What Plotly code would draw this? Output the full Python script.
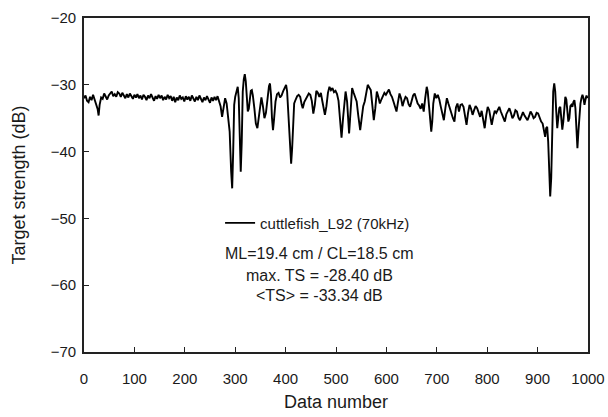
import plotly.graph_objects as go

data_number = [0,3,6,9,12,15,18,21,24,27,29,31,34,37,40,43,46,49,52,55,58,61,64,67,70,73,76,79,82,85,88,91,94,97,100,103,106,109,112,115,118,121,124,127,130,133,136,139,142,145,148,151,154,157,160,163,166,169,172,175,178,181,184,187,190,193,196,199,202,205,208,211,214,217,220,223,226,229,232,235,238,241,244,247,250,253,256,259,262,265,268,271,274,277,280,283,286,289,292,294,296,298,300,303,305,307,309,311,313,315,317,319,321,323,325,327,329,331,333,335,338,341,344,347,350,352,355,358,361,364,367,369,371,373,375,377,380,383,386,389,392,395,398,401,403,405,407,409,411,413,415,417,420,423,426,429,432,434,437,440,443,446,449,452,455,458,461,464,467,470,473,476,478,481,484,487,490,493,496,499,502,505,508,511,514,517,519,522,524,526,528,530,532,535,538,541,544,546,548,551,554,557,560,563,566,569,572,575,578,581,584,587,590,593,596,599,602,605,608,611,614,617,620,623,626,629,632,635,638,641,644,647,650,653,656,659,662,665,668,671,674,677,680,682,684,686,689,691,693,696,699,702,705,708,711,714,717,720,723,726,729,732,735,738,741,744,747,750,753,756,759,762,765,768,771,774,777,780,783,786,789,792,795,798,801,804,807,809,812,815,818,821,824,827,830,833,835,838,841,844,847,850,853,856,859,862,865,868,871,874,877,880,883,886,889,892,895,898,901,904,907,910,913,915,917,919,921,923,925,927,929,931,933,935,937,939,941,943,945,947,949,951,953,955,957,959,961,963,965,967,969,971,973,975,977,979,981,983,985,987,989,991,993,995,997,999]

target_strength = [-32.0,-31.6,-32.4,-32.6,-31.8,-32.3,-31.5,-32.2,-32.9,-33.6,-34.6,-33.0,-31.9,-32.1,-31.3,-31.9,-32.2,-31.6,-31.2,-31.0,-31.7,-31.4,-31.8,-31.1,-31.3,-31.8,-31.2,-31.6,-32.0,-31.4,-31.9,-31.3,-31.7,-32.1,-31.5,-31.9,-31.4,-32.0,-31.6,-32.2,-31.5,-31.8,-32.3,-31.6,-32.0,-31.4,-31.9,-32.4,-31.7,-32.1,-31.5,-32.0,-31.6,-32.3,-31.8,-32.2,-31.5,-32.0,-31.7,-32.4,-31.8,-32.6,-31.9,-32.3,-31.6,-32.1,-31.9,-32.5,-31.7,-32.2,-31.8,-32.4,-31.6,-32.0,-32.5,-31.8,-32.3,-31.6,-32.1,-32.6,-31.9,-32.3,-31.7,-32.2,-32.7,-31.9,-32.4,-31.8,-32.3,-31.7,-32.5,-33.2,-34.8,-33.0,-32.0,-32.8,-34.5,-37.0,-43.0,-45.5,-40.0,-33.0,-31.8,-30.8,-30.3,-32.0,-38.0,-43.0,-38.5,-31.0,-29.2,-28.4,-29.5,-32.0,-34.0,-33.6,-31.5,-30.9,-30.8,-31.6,-33.5,-35.8,-36.5,-34.6,-32.3,-31.9,-33.2,-35.0,-34.2,-32.0,-30.2,-29.8,-31.5,-35.0,-36.8,-35.2,-32.5,-31.4,-31.2,-31.9,-31.6,-31.0,-30.4,-30.0,-31.0,-34.0,-38.0,-41.0,-41.8,-39.5,-35.5,-32.8,-32.2,-31.7,-31.5,-31.8,-33.0,-33.5,-32.6,-32.2,-31.6,-31.3,-31.5,-32.4,-34.3,-33.0,-30.9,-31.2,-31.8,-31.2,-32.5,-34.0,-34.5,-33.2,-31.2,-30.3,-30.8,-30.5,-31.1,-30.9,-31.4,-32.4,-35.5,-37.9,-35.0,-31.8,-31.0,-32.5,-35.5,-37.3,-35.0,-31.5,-30.5,-31.2,-31.8,-32.5,-34.5,-36.2,-36.8,-35.0,-33.2,-32.5,-31.0,-30.0,-30.4,-30.8,-33.0,-35.3,-33.5,-31.0,-31.8,-32.8,-32.2,-31.7,-31.2,-31.5,-31.0,-30.7,-31.4,-31.8,-32.5,-33.4,-34.0,-32.6,-31.3,-32.0,-33.2,-32.4,-31.8,-32.0,-32.9,-33.3,-32.2,-31.6,-31.3,-32.1,-32.8,-33.1,-33.6,-32.8,-34.0,-32.0,-30.3,-31.0,-32.5,-35.0,-37.0,-35.5,-32.8,-31.3,-32.0,-31.5,-32.2,-33.3,-34.2,-35.3,-33.5,-32.0,-32.8,-33.6,-34.3,-35.0,-35.5,-33.4,-32.8,-34.0,-33.0,-32.9,-33.3,-34.8,-36.0,-34.2,-33.0,-33.6,-34.5,-33.8,-33.2,-33.5,-34.1,-34.8,-33.9,-35.2,-36.5,-34.6,-33.3,-33.8,-35.2,-36.0,-34.8,-33.9,-34.2,-33.6,-33.3,-34.0,-34.6,-35.2,-35.5,-34.4,-33.9,-33.5,-34.2,-35.0,-34.6,-33.8,-34.0,-34.9,-35.3,-34.5,-34.1,-34.6,-35.0,-35.3,-34.7,-34.0,-34.4,-35.0,-34.8,-34.2,-34.3,-35.0,-35.5,-35.8,-37.2,-37.8,-36.5,-36.3,-38.5,-42.5,-46.7,-44.0,-36.0,-31.0,-29.8,-31.0,-34.0,-36.5,-35.0,-33.5,-33.3,-35.0,-36.7,-35.5,-33.0,-31.8,-32.2,-33.8,-35.5,-35.0,-33.2,-33.0,-33.3,-32.6,-32.3,-33.5,-36.0,-39.5,-37.0,-34.0,-32.8,-32.0,-31.5,-32.0,-33.0,-32.2,-31.6,-32.0]

series_name = "cuttlefish_L92 (70kHz)"
info_lines = ["ML=19.4 cm / CL=18.5 cm", "max. TS = -28.40 dB", "&lt;TS&gt; = -33.34 dB"]

x_ticks = list(range(0, 1001, 100))
y_ticks = list(range(-70, -19, 10))

FONT = "Liberation Sans, Arial, sans-serif"
TXT = "#1a1a1a"

fig = go.Figure()
fig.add_trace(go.Scatter(x=data_number, y=target_strength, mode="lines",
                         name=series_name, line=dict(color="black", width=1.9)))

axis_common = dict(showgrid=False, zeroline=False, showline=True, linecolor="#222",
                   linewidth=1.6, mirror=True, ticks="inside", ticklen=5,
                   tickcolor="#222", automargin=False,
                   tickfont=dict(family=FONT, size=15, color=TXT))
fig.update_xaxes(range=[0, 1000], tickvals=x_ticks, ticklabelstandoff=12,
                 title=dict(text="Data number", font=dict(family=FONT, size=18, color=TXT), standoff=10),
                 **axis_common)
fig.update_yaxes(range=[-70, -20], tickvals=y_ticks, ticklabelstandoff=3,
                 title=dict(text="Target strength (dB)", font=dict(family=FONT, size=18, color=TXT), standoff=20),
                 **axis_common)

ys = [0.296, 0.228, 0.168]
for t, y in zip(info_lines, ys):
    fig.add_annotation(text=t, xref="paper", yref="paper", x=0.468, y=y,
                       showarrow=False, xanchor="center", yanchor="middle",
                       font=dict(family=FONT, size=16, color=TXT))

fig.update_layout(
    width=608, height=417, margin=dict(l=84, r=20, t=18, b=65),
    paper_bgcolor="white", plot_bgcolor="white", showlegend=True,
    legend=dict(x=0.27, y=0.386, xanchor="left", yanchor="middle",
                bgcolor="rgba(0,0,0,0)", itemwidth=30,
                font=dict(family=FONT, size=15, color=TXT)),
)

fig.write_html("out.html")
